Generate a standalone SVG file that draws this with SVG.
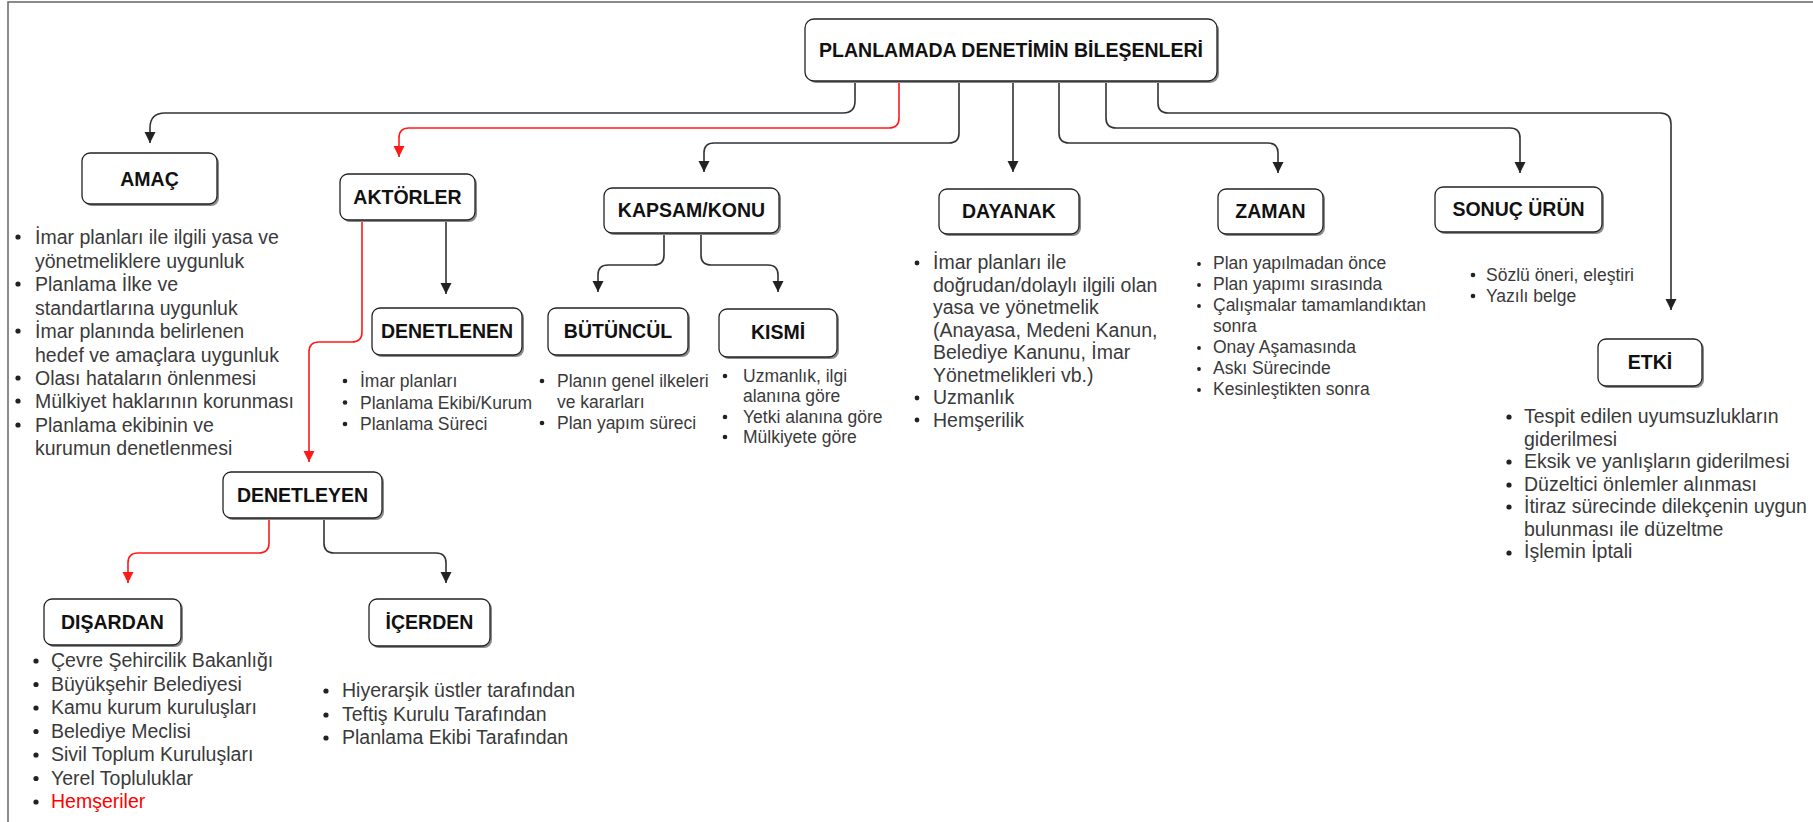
<svg xmlns="http://www.w3.org/2000/svg" width="1813" height="822" viewBox="0 0 1813 822">
  <defs>
    <style>
      .frame { fill: none; stroke: #666; stroke-width: 1.5; }
      .shadow { fill: #8a8a8a; }
      .box { fill: #fff; stroke: #222; stroke-width: 1.3; }
      .lbl { font-family: "Liberation Sans", Arial, sans-serif; font-weight: bold; font-size: 19.5px; fill: #111; text-anchor: middle; }
      .li { font-family: "Liberation Sans", Arial, sans-serif; font-size: 19.5px; fill: #3a3a3a; }
      .sm { font-size: 17.5px; }
      .hl { fill: #ff0000; }
      .dot { fill: #222; }
      .conn { fill: none; stroke: #333; stroke-width: 1.6; marker-end: url(#arrow); }
      .conn.red { stroke: #ff1a1a; marker-end: url(#arrowRed); }
    </style>
    <marker id="arrow" markerUnits="userSpaceOnUse" markerWidth="12" markerHeight="12" refX="11" refY="5.5" orient="auto">
      <path d="M0,0 L11,5.5 L0,11 Z" fill="#222"/>
    </marker>
    <marker id="arrowRed" markerUnits="userSpaceOnUse" markerWidth="12" markerHeight="12" refX="11" refY="5.5" orient="auto">
      <path d="M0,0 L11,5.5 L0,11 Z" fill="#ff1a1a"/>
    </marker>
  </defs>

  <rect width="1813" height="822" fill="#fff"/>
  <!-- page frame (left and top rules) -->
  <path class="frame" d="M8,822 V2 H1813"/>

  <!-- connectors -->
  <g id="connectors">
    <path class="conn" d="M855,81 V101 Q855,113 843,113 H165 Q150,113 150,128 V143"/>
    <path class="conn red" d="M899,81 V118 Q899,128 889,128 H409 Q399,128 399,138 V157"/>
    <path class="conn" d="M959,81 V133 Q959,143 949,143 H714 Q704,143 704,153 V172"/>
    <path class="conn" d="M1013,81 V172"/>
    <path class="conn" d="M1059,81 V133 Q1059,143 1069,143 H1268 Q1278,143 1278,153 V173"/>
    <path class="conn" d="M1106,81 V118 Q1106,128 1116,128 H1510 Q1520,128 1520,138 V173"/>
    <path class="conn" d="M1158,81 V103 Q1158,113 1168,113 H1660 Q1671,113 1671,124 V310"/>
    <path class="conn" d="M446,220 V294"/>
    <path class="conn red" d="M362,220 V332 Q362,342 352,342 H319 Q309,342 309,352 V462"/>
    <path class="conn" d="M664,233 V255 Q664,265 654,265 H608 Q598,265 598,275 V292"/>
    <path class="conn" d="M701,233 V255 Q701,265 711,265 H768 Q778,265 778,275 V292"/>
    <path class="conn red" d="M269,518 V543 Q269,553 259,553 H138 Q128,553 128,563 V583"/>
    <path class="conn" d="M324,518 V543 Q324,553 334,553 H436 Q446,553 446,563 V583"/>
  </g>

  <g id="node-root">
    <rect class="shadow" x="807" y="21" width="412" height="62" rx="9"/>
    <rect class="box" x="805" y="19" width="412" height="62" rx="9"/>
    <text class="lbl" x="1011" y="57">PLANLAMADA DENETİMİN BİLEŞENLERİ</text>
  </g>

  <g id="node-amac">
    <rect class="shadow" x="84" y="155" width="135" height="51" rx="8"/>
    <rect class="box" x="82" y="153" width="135" height="51" rx="8"/>
    <text class="lbl" x="149.5" y="186">AMAÇ</text>
    <g class="dot">
      <circle cx="18" cy="237" r="2.6"/><circle cx="18" cy="284" r="2.6"/><circle cx="18" cy="331" r="2.6"/>
      <circle cx="18" cy="378" r="2.6"/><circle cx="18" cy="401" r="2.6"/><circle cx="18" cy="425" r="2.6"/>
    </g>
    <text class="li" x="35" y="244">İmar planları ile ilgili yasa ve</text>
    <text class="li" x="35" y="267.5">yönetmeliklere uygunluk</text>
    <text class="li" x="35" y="291">Planlama İlke ve</text>
    <text class="li" x="35" y="314.5">standartlarına uygunluk</text>
    <text class="li" x="35" y="338">İmar planında belirlenen</text>
    <text class="li" x="35" y="361.5">hedef ve amaçlara uygunluk</text>
    <text class="li" x="35" y="385">Olası hataların önlenmesi</text>
    <text class="li" x="35" y="408">Mülkiyet haklarının korunması</text>
    <text class="li" x="35" y="431.5">Planlama ekibinin ve</text>
    <text class="li" x="35" y="455">kurumun denetlenmesi</text>
  </g>

  <g id="node-aktorler">
    <rect class="shadow" x="342" y="176" width="135" height="46" rx="8"/>
    <rect class="box" x="340" y="174" width="135" height="46" rx="8"/>
    <text class="lbl" x="407.5" y="204">AKTÖRLER</text>
  </g>

  <g id="node-denetlenen">
    <rect class="shadow" x="374" y="310" width="150" height="47" rx="8"/>
    <rect class="box" x="372" y="308" width="150" height="47" rx="8"/>
    <text class="lbl" x="447" y="338">DENETLENEN</text>
    <g class="dot">
      <circle cx="345" cy="381" r="2.3"/><circle cx="345" cy="402.5" r="2.3"/><circle cx="345" cy="424" r="2.3"/>
    </g>
    <text class="li sm" x="360" y="387">İmar planları</text>
    <text class="li sm" x="360" y="408.5">Planlama Ekibi/Kurum</text>
    <text class="li sm" x="360" y="430">Planlama Süreci</text>
  </g>

  <g id="node-denetleyen">
    <rect class="shadow" x="225" y="474" width="159" height="46" rx="8"/>
    <rect class="box" x="223" y="472" width="159" height="46" rx="8"/>
    <text class="lbl" x="302.5" y="502">DENETLEYEN</text>
  </g>

  <g id="node-disardan">
    <rect class="shadow" x="46" y="601" width="137" height="46" rx="8"/>
    <rect class="box" x="44" y="599" width="137" height="46" rx="8"/>
    <text class="lbl" x="112.5" y="629">DIŞARDAN</text>
    <g class="dot">
      <circle cx="36" cy="661" r="2.6"/><circle cx="36" cy="684.5" r="2.6"/><circle cx="36" cy="708" r="2.6"/>
      <circle cx="36" cy="731.5" r="2.6"/><circle cx="36" cy="755" r="2.6"/><circle cx="36" cy="778.5" r="2.6"/>
      <circle cx="36" cy="802" r="2.6"/>
    </g>
    <text class="li" x="51" y="667">Çevre Şehircilik Bakanlığı</text>
    <text class="li" x="51" y="690.5">Büyükşehir Belediyesi</text>
    <text class="li" x="51" y="714">Kamu kurum kuruluşları</text>
    <text class="li" x="51" y="737.5">Belediye Meclisi</text>
    <text class="li" x="51" y="761">Sivil Toplum Kuruluşları</text>
    <text class="li" x="51" y="784.5">Yerel Topluluklar</text>
    <text class="li hl" x="51" y="808">Hemşeriler</text>
  </g>

  <g id="node-icerden">
    <rect class="shadow" x="371" y="601" width="121" height="47" rx="8"/>
    <rect class="box" x="369" y="599" width="121" height="47" rx="8"/>
    <text class="lbl" x="429.5" y="629">İÇERDEN</text>
    <g class="dot">
      <circle cx="326" cy="691" r="2.6"/><circle cx="326" cy="715" r="2.6"/><circle cx="326" cy="738" r="2.6"/>
    </g>
    <text class="li" x="342" y="697">Hiyerarşik üstler tarafından</text>
    <text class="li" x="342" y="721">Teftiş Kurulu Tarafından</text>
    <text class="li" x="342" y="744">Planlama Ekibi Tarafından</text>
  </g>

  <g id="node-kapsam">
    <rect class="shadow" x="606" y="190" width="175" height="45" rx="8"/>
    <rect class="box" x="604" y="188" width="175" height="45" rx="8"/>
    <text class="lbl" x="691.5" y="217">KAPSAM/KONU</text>
  </g>

  <g id="node-butuncul">
    <rect class="shadow" x="550" y="310" width="140" height="47" rx="8"/>
    <rect class="box" x="548" y="308" width="140" height="47" rx="8"/>
    <text class="lbl" x="618" y="338">BÜTÜNCÜL</text>
    <g class="dot">
      <circle cx="542" cy="381" r="2.3"/><circle cx="542" cy="423" r="2.3"/>
    </g>
    <text class="li sm" x="557" y="387">Planın genel ilkeleri</text>
    <text class="li sm" x="557" y="408">ve kararları</text>
    <text class="li sm" x="557" y="429">Plan yapım süreci</text>
  </g>

  <g id="node-kismi">
    <rect class="shadow" x="721" y="311" width="118" height="48" rx="8"/>
    <rect class="box" x="719" y="309" width="118" height="48" rx="8"/>
    <text class="lbl" x="778" y="339">KISMİ</text>
    <g class="dot">
      <circle cx="725" cy="376" r="2.3"/><circle cx="725" cy="417" r="2.3"/><circle cx="725" cy="437" r="2.3"/>
    </g>
    <text class="li sm" x="743" y="382">Uzmanlık, ilgi</text>
    <text class="li sm" x="743" y="402">alanına göre</text>
    <text class="li sm" x="743" y="423">Yetki alanına göre</text>
    <text class="li sm" x="743" y="443">Mülkiyete göre</text>
  </g>

  <g id="node-dayanak">
    <rect class="shadow" x="941" y="191" width="140" height="45" rx="8"/>
    <rect class="box" x="939" y="189" width="140" height="45" rx="8"/>
    <text class="lbl" x="1009" y="218">DAYANAK</text>
    <g class="dot">
      <circle cx="917" cy="263" r="2.4"/><circle cx="917" cy="398" r="2.4"/><circle cx="917" cy="420" r="2.4"/>
    </g>
    <text class="li" x="933" y="269">İmar planları ile</text>
    <text class="li" x="933" y="291.5">doğrudan/dolaylı ilgili olan</text>
    <text class="li" x="933" y="314">yasa ve yönetmelik</text>
    <text class="li" x="933" y="336.5">(Anayasa, Medeni Kanun,</text>
    <text class="li" x="933" y="359">Belediye Kanunu, İmar</text>
    <text class="li" x="933" y="381.5">Yönetmelikleri vb.)</text>
    <text class="li" x="933" y="404">Uzmanlık</text>
    <text class="li" x="933" y="426.5">Hemşerilik</text>
  </g>

  <g id="node-zaman">
    <rect class="shadow" x="1220" y="191" width="105" height="45" rx="8"/>
    <rect class="box" x="1218" y="189" width="105" height="45" rx="8"/>
    <text class="lbl" x="1270.5" y="218">ZAMAN</text>
    <g class="dot">
      <circle cx="1199" cy="264" r="1.9"/><circle cx="1199" cy="285" r="1.9"/><circle cx="1199" cy="306" r="1.9"/>
      <circle cx="1199" cy="348" r="1.9"/><circle cx="1199" cy="369" r="1.9"/><circle cx="1199" cy="390" r="1.9"/>
    </g>
    <text class="li sm" x="1213" y="269">Plan yapılmadan önce</text>
    <text class="li sm" x="1213" y="290">Plan yapımı sırasında</text>
    <text class="li sm" x="1213" y="311">Çalışmalar tamamlandıktan</text>
    <text class="li sm" x="1213" y="332">sonra</text>
    <text class="li sm" x="1213" y="353">Onay Aşamasında</text>
    <text class="li sm" x="1213" y="374">Askı Sürecinde</text>
    <text class="li sm" x="1213" y="395">Kesinleştikten sonra</text>
  </g>

  <g id="node-sonuc">
    <rect class="shadow" x="1437" y="189" width="167" height="45" rx="8"/>
    <rect class="box" x="1435" y="187" width="167" height="45" rx="8"/>
    <text class="lbl" x="1518.5" y="216">SONUÇ ÜRÜN</text>
    <g class="dot">
      <circle cx="1473" cy="275" r="2.3"/><circle cx="1473" cy="296" r="2.3"/>
    </g>
    <text class="li sm" x="1486" y="281">Sözlü öneri, eleştiri</text>
    <text class="li sm" x="1486" y="302">Yazılı belge</text>
  </g>

  <g id="node-etki">
    <rect class="shadow" x="1600" y="341" width="104" height="47" rx="8"/>
    <rect class="box" x="1598" y="339" width="104" height="47" rx="8"/>
    <text class="lbl" x="1650" y="369">ETKİ</text>
    <g class="dot">
      <circle cx="1509" cy="417" r="2.6"/><circle cx="1509" cy="462" r="2.6"/><circle cx="1509" cy="485" r="2.6"/>
      <circle cx="1509" cy="507" r="2.6"/><circle cx="1509" cy="553" r="2.6"/>
    </g>
    <text class="li" x="1524" y="423">Tespit edilen uyumsuzlukların</text>
    <text class="li" x="1524" y="445.5">giderilmesi</text>
    <text class="li" x="1524" y="468">Eksik ve yanlışların giderilmesi</text>
    <text class="li" x="1524" y="490.5">Düzeltici önlemler alınması</text>
    <text class="li" x="1524" y="513">İtiraz sürecinde dilekçenin uygun</text>
    <text class="li" x="1524" y="535.5">bulunması ile düzeltme</text>
    <text class="li" x="1524" y="558">İşlemin İptali</text>
  </g>
</svg>
